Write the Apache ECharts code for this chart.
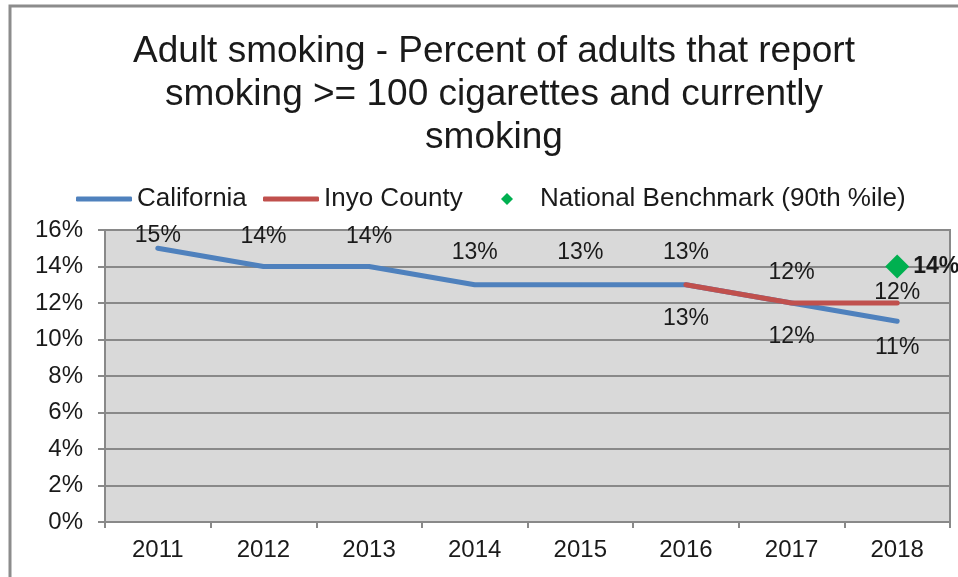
<!DOCTYPE html>
<html>
<head>
<meta charset="utf-8">
<script src="https://cdn.jsdelivr.net/npm/echarts@6/dist/echarts.min.js"></script>
<style>
  html, body { margin: 0; padding: 0; background: #ffffff; }
  #chart { width: 958px; height: 577px; }
</style>
</head>
<body>
<div id="chart"></div>
<script>
// Adult smoking rates, percent
const years = ['2011', '2012', '2013', '2014', '2015', '2016', '2017', '2018'];
const california = [15, 14, 14, 13, 13, 13, 12, 11];
const inyoCounty = [null, null, null, null, null, 13, 12, 12];
const nationalBenchmark = [null, null, null, null, null, null, null, 14];
const yTicks = { min: 0, max: 16, step: 2 };

const FONT = '"Liberation Sans", Arial, sans-serif';

// Vertical nudges (px) for each value label, so neighbouring labels don't collide
const californiaLabelDy = [-13, -30, -30, -32, -32, -32, 34, 26];
const inyoLabelDy = [0, 0, 0, 0, 0, 34, -30, -10];

function withLabels(values, dys) {
  return values.map((v, i) => ({
    value: v,
    label: { offset: [0, dys[i]] }
  }));
}

const labelBase = {
  show: true,
  position: 'inside',
  formatter: p => p.value + '%',
  color: '#1a1a1a',
  fontFamily: FONT,
  fontSize: 23
};

const chart = echarts.init(document.getElementById('chart'), null, { renderer: 'canvas' });

const legendText = { color: '#1a1a1a', fontFamily: FONT, fontSize: 26 };

chart.setOption({
  animation: false,
  backgroundColor: '#ffffff',
  title: {
    text: 'Adult smoking - Percent of adults that report\nsmoking >= 100 cigarettes and currently\nsmoking',
    left: 489,
    top: 25,
    textAlign: 'center',
    textStyle: {
      color: '#1a1a1a',
      fontFamily: FONT,
      fontSize: 37,
      fontWeight: 'normal',
      lineHeight: 43
    }
  },
  graphic: [{
    type: 'polyline',
    shape: { points: [[10, 577], [10, 6], [958, 6]] },
    style: { stroke: '#8c8c8c', lineWidth: 3, fill: null },
    silent: true
  }],
  legend: [
    {
      data: [{ name: 'California', icon: 'roundRect' }],
      left: 71, top: 181,
      itemWidth: 56, itemHeight: 5, itemGap: 0,
      textStyle: legendText,
      selectedMode: false
    },
    {
      data: [{ name: 'Inyo County', icon: 'roundRect' }],
      left: 258, top: 181,
      itemWidth: 56, itemHeight: 5, itemGap: 0,
      textStyle: legendText,
      selectedMode: false
    },
    {
      data: [{ name: 'National Benchmark (90th %ile)', icon: 'diamond' }],
      left: 496, top: 181,
      itemWidth: 12, itemHeight: 12, itemGap: 0,
      textStyle: Object.assign({ padding: [0, 0, 0, 22] }, legendText),
      selectedMode: false
    }
  ],
  grid: {
    left: 105, right: 8, top: 230, bottom: 55,
    show: true,
    backgroundColor: '#d9d9d9',
    borderColor: '#898989',
    borderWidth: 2
  },
  xAxis: {
    type: 'category',
    data: years,
    boundaryGap: true,
    axisLine: { lineStyle: { color: '#898989', width: 2 } },
    axisTick: { show: true, alignWithLabel: false, length: 6, lineStyle: { color: '#898989', width: 2 } },
    axisLabel: { color: '#1a1a1a', fontFamily: FONT, fontSize: 24, margin: 16 },
    splitLine: { show: false }
  },
  yAxis: {
    type: 'value',
    min: yTicks.min,
    max: yTicks.max,
    interval: yTicks.step,
    axisLine: { show: true, lineStyle: { color: '#898989', width: 2 } },
    axisTick: { show: true, length: 7, lineStyle: { color: '#898989', width: 2 } },
    axisLabel: { color: '#1a1a1a', fontFamily: FONT, fontSize: 24, margin: 22, formatter: '{value}%' },
    splitLine: { show: true, lineStyle: { color: '#898989', width: 2 } }
  },
  series: [
    {
      name: 'California',
      type: 'line',
      data: withLabels(california, californiaLabelDy),
      color: '#4f81bd',
      lineStyle: { width: 5, color: '#4f81bd', cap: 'round', join: 'round' },
      symbol: 'circle',
      symbolSize: 2,
      showSymbol: true,
      itemStyle: { color: '#4f81bd' },
      label: labelBase,
      z: 3
    },
    {
      name: 'Inyo County',
      type: 'line',
      data: withLabels(inyoCounty, inyoLabelDy),
      color: '#c0504d',
      lineStyle: { width: 5, color: '#c0504d', cap: 'round', join: 'round' },
      symbol: 'circle',
      symbolSize: 2,
      showSymbol: true,
      itemStyle: { color: '#c0504d' },
      label: labelBase,
      z: 4
    },
    {
      name: 'National Benchmark (90th %ile)',
      type: 'line',
      data: nationalBenchmark,
      color: '#00b050',
      lineStyle: { width: 0 },
      symbol: 'diamond',
      symbolSize: 24,
      itemStyle: { color: '#00b050' },
      label: {
        show: true,
        position: 'right',
        distance: 4,
        formatter: p => p.value + '%',
        color: '#1a1a1a',
        fontFamily: FONT,
        fontSize: 23,
        fontWeight: 'bold'
      },
      z: 5
    }
  ]
});
</script>
</body>
</html>
